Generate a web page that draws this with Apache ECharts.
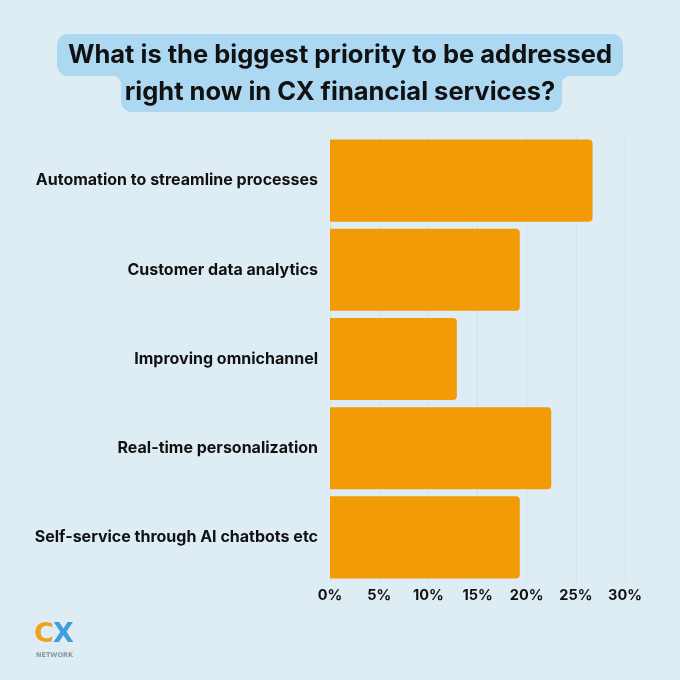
<!DOCTYPE html>
<html>
<head>
<meta charset="utf-8">
<script src="https://cdn.jsdelivr.net/npm/echarts@6/dist/echarts.min.js"></script>
<style>
html,body{margin:0;padding:0;background:#deedf3;}
#chart{width:680px;height:680px;}
</style>
</head>
<body>
<div id="chart"></div>
<script>
const titleLines = ['What is the biggest priority to be addressed', 'right now in CX financial services?'];
const categories = [
  'Automation to streamline processes',
  'Customer data analytics',
  'Improving omnichannel',
  'Real-time personalization',
  'Self-service through AI chatbots etc'
];
const values = [26.7, 19.3, 12.9, 22.5, 19.3];
const tickValues = [0, 5, 10, 15, 20, 25, 30];

const chart = echarts.init(document.getElementById('chart'));
const FONT = 'Inter';
const BG = '#deedf3';
const BUB = '#acd8f1';
chart.setOption({
  backgroundColor: BG,
  animation: false,
  graphic: [
    { type: 'rect', z: 0, shape: { x: 57, y: 34, width: 566, height: 42, r: 11 }, style: { fill: BUB } },
    { type: 'rect', z: 0, shape: { x: 121, y: 70, width: 441, height: 42, r: 11 }, style: { fill: BUB } },
    { type: 'rect', z: 0, shape: { x: 113, y: 75, width: 9, height: 9 }, style: { fill: BUB } },
    { type: 'circle', z: 1, shape: { cx: 113, cy: 84, r: 8 }, style: { fill: BG } },
    { type: 'rect', z: 0, shape: { x: 561, y: 75, width: 9, height: 9 }, style: { fill: BUB } },
    { type: 'circle', z: 1, shape: { cx: 570, cy: 84, r: 8 }, style: { fill: BG } },
    { type: 'text', z: 5, x: 340, y: 55, style: { text: titleLines[0], align: 'center', verticalAlign: 'middle', fontFamily: FONT, fontWeight: 'bold', fontSize: 25.5, fill: '#111111' } },
    { type: 'text', z: 5, x: 340, y: 92, style: { text: titleLines[1], align: 'center', verticalAlign: 'middle', fontFamily: FONT, fontWeight: 'bold', fontSize: 25.5, fill: '#111111' } },
    { type: 'text', z: 5, left: 34, top: 621, style: { text: 'C', fontFamily: 'DejaVu Sans', fontWeight: 'bold', fontSize: 27, fill: '#f0a21e' } },
    { type: 'text', z: 5, left: 53, top: 621, style: { text: 'X', fontFamily: 'DejaVu Sans', fontWeight: 'bold', fontSize: 27, fill: '#3d9fdc' } },
    { type: 'text', z: 5, left: 36, top: 652, style: { text: 'NETWORK', fontFamily: 'DejaVu Sans', fontWeight: 'bold', fontSize: 6.5, fill: '#8a959c' } }
  ],
  grid: { left: 330, right: 55, top: 136, bottom: 98, containLabel: false },
  xAxis: {
    type: 'value',
    min: tickValues[0],
    max: tickValues[tickValues.length - 1],
    interval: 5,
    axisLine: { show: false },
    axisTick: { show: false },
    splitLine: { show: true, lineStyle: { color: '#d0e3eb', width: 1 } },
    axisLabel: {
      formatter: '{value}%', fontFamily: FONT, fontWeight: 'bold', fontSize: 14.5, color: '#111111', margin: 6
    }
  },
  yAxis: {
    type: 'category',
    data: categories,
    inverse: true,
    axisLine: { show: false },
    axisTick: { show: false },
    splitLine: { show: false },
    axisLabel: { fontFamily: FONT, fontWeight: 'bold', fontSize: 16, color: '#111111', margin: 12 }
  },
  series: [{
    type: 'bar',
    data: values,
    barCategoryGap: '8%',
    itemStyle: { color: '#f29b07', borderRadius: [0, 4, 4, 0] }
  }]
});
</script>
</body>
</html>
